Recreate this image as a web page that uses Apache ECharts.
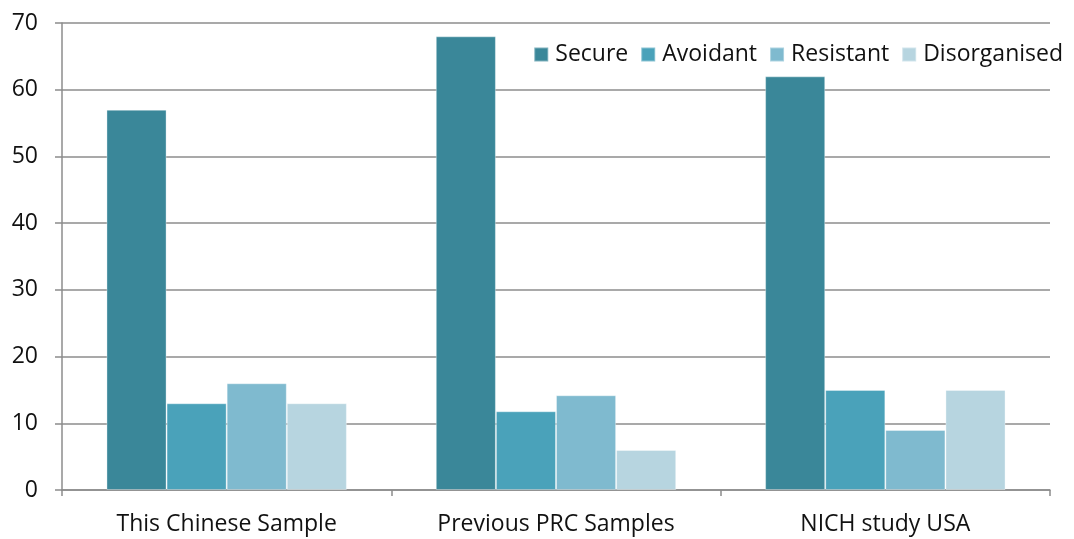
<!DOCTYPE html>
<html><head><meta charset="utf-8">
<script src="https://cdn.jsdelivr.net/npm/echarts@6/dist/echarts.min.js"></script>
<style>html,body{margin:0;padding:0;background:#fff}#c{width:1074px;height:539px}</style>
</head><body><div id="c"></div>
<script>
const categories = ['This Chinese Sample', 'Previous PRC Samples', 'NICH study USA'];
const seriesNames = ['Secure', 'Avoidant', 'Resistant', 'Disorganised'];
const secure = [57, 68, 62];
const avoidant = [13, 11.8, 15];
const resistant = [16, 14.2, 9];
const disorganised = [13, 6, 15];
const yTicks = [0, 10, 20, 30, 40, 50, 60, 70];
const colors = ['#3a8799', '#4aa2ba', '#7fbacf', '#b7d5e0'];
const values = [secure, avoidant, resistant, disorganised];

const font = 'Open Sans';
const chart = echarts.init(document.getElementById('c'));
chart.setOption({
  animation: false,
  textStyle: { fontFamily: font },
  grid: { left: 62, right: 24, top: 23, bottom: 49, containLabel: false },
  legend: {
    top: 38, right: 6, itemWidth: 14, itemHeight: 14, itemGap: 12,
    textStyle: { fontSize: 23, color: '#111', fontFamily: font, padding: [0, 0, 0, 2] },
    icon: 'rect',
    data: seriesNames
  },
  xAxis: {
    type: 'category', data: categories,
    axisLine: { lineStyle: { color: '#8c8c8c', width: 1.5 } },
    axisTick: { show: true, length: 6, lineStyle: { color: '#8c8c8c', width: 1.5 } },
    axisLabel: { fontSize: 23, color: '#111', margin: 23, fontFamily: font }
  },
  yAxis: {
    type: 'value', min: yTicks[0], max: yTicks[yTicks.length - 1], interval: 10,
    axisLine: { show: true, lineStyle: { color: '#8c8c8c', width: 1.5 } },
    axisTick: { show: true, inside: false, length: 7, lineStyle: { color: '#8c8c8c', width: 1.5 } },
    splitLine: { lineStyle: { color: '#8c8c8c', width: 1.5 } },
    axisLabel: { fontSize: 23, color: '#111', margin: 24, fontFamily: font }
  },
  series: seriesNames.map((n, i) => ({
    name: n, type: 'bar', data: values[i],
    barGap: '0%', barCategoryGap: '27%',
    itemStyle: { color: colors[i], borderColor: 'rgba(255,255,255,0.35)', borderWidth: 1 }
  }))
});
</script></body></html>
